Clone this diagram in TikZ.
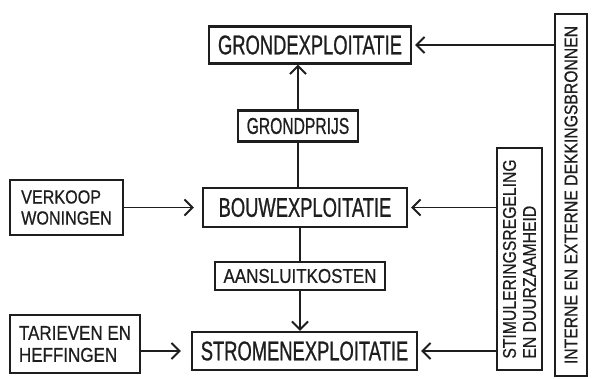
\documentclass[tikz,border=0pt]{standalone}
\usepackage{fontspec}
\setmainfont{Liberation Sans}
\newfontfamily\hand{Liberation Sans}[FakeStretch=0.68,FakeBold=0.8]
\newfontfamily\handwide{Liberation Sans}[FakeStretch=0.85,FakeBold=0.6]
\usetikzlibrary{arrows.meta}
\definecolor{ink}{HTML}{1E1E1E}
\tikzset{
  box/.style={draw=ink, line width=2.4pt, inner sep=0pt, text=ink, align=center},
  bigbox/.style={box, font=\hand\fontsize{27}{30}\selectfont},
  midbox/.style={box, font=\handwide\fontsize{20}{22}\selectfont},
  smallbox/.style={box, font=\handwide\fontsize{19}{21}\selectfont},
  vbox/.style={box, rotate=90, font=\handwide\fontsize{18.5}{20}\selectfont, align=left},
  link/.style={draw=ink, line width=1.9pt},
  arr/.style={link, -{Straight Barb[length=8pt,width=16pt,line width=1.9pt]}},
}
\begin{document}
\begin{tikzpicture}[x=1pt,y=-1pt]
\useasboundingbox[fill=white] (0,0) rectangle (611,379);

% main chain of exploitations
\node[bigbox, minimum width=202pt, minimum height=37pt] (ge) at (310,45) {GRONDEXPLOITATIE};
\node[box, font=\hand\fontsize{23}{25}\selectfont, minimum width=120pt, minimum height=31pt] (gp) at (298,126) {GRONDPRIJS};
\node[bigbox, minimum width=204pt, minimum height=39pt] (be) at (305,207.5) {BOUWEXPLOITATIE};
\node[midbox, minimum width=170pt, minimum height=28pt] (ak) at (300,276) {AANSLUITKOSTEN};
\node[bigbox, minimum width=225pt, minimum height=38pt] (se) at (304.5,351) {STROMENEXPLOITATIE};

% revenue sources on the left
\node[smallbox, minimum width=113pt, minimum height=55pt, align=left] (vw) at (66.5,207.5) {VERKOOP\\WONINGEN};
\node[midbox, minimum width=130pt, minimum height=58pt, align=left] (th) at (75,344) {TARIEVEN EN\\HEFFINGEN};

% vertical boxes on the right
\node[vbox, minimum width=222pt, minimum height=45pt] (st) at (519.5,259) {STIMULERINGSREGELING\\EN DUURZAAMHEID};
\node[vbox, minimum width=362pt, minimum height=32pt] (dk) at (571,195) {INTERNE EN EXTERNE DEKKINGSBRONNEN};

% vertical connections through the price boxes
\draw[link] (be.north -| gp.south) -- (gp.south);
\draw[arr] (gp.north) -- (gp.north |- ge.south);
\draw[link] (be.south -| ak.north) -- (ak.north);
\draw[arr] (ak.south) -- (ak.south |- se.north);

% horizontal inflows
\draw[arr, shorten >=8pt] (vw.east |- be.west) -- (be.west);
\draw[arr, shorten >=10pt] (th.east |- se.west) -- (se.west);
\draw[arr, shorten >=3pt] (st.north |- be.east) -- (be.east);
\draw[arr, shorten >=3pt] (st.north |- se.east) -- (se.east);
\draw[arr, shorten >=3pt] (dk.north |- ge.east) -- (ge.east);
\end{tikzpicture}
\end{document}
